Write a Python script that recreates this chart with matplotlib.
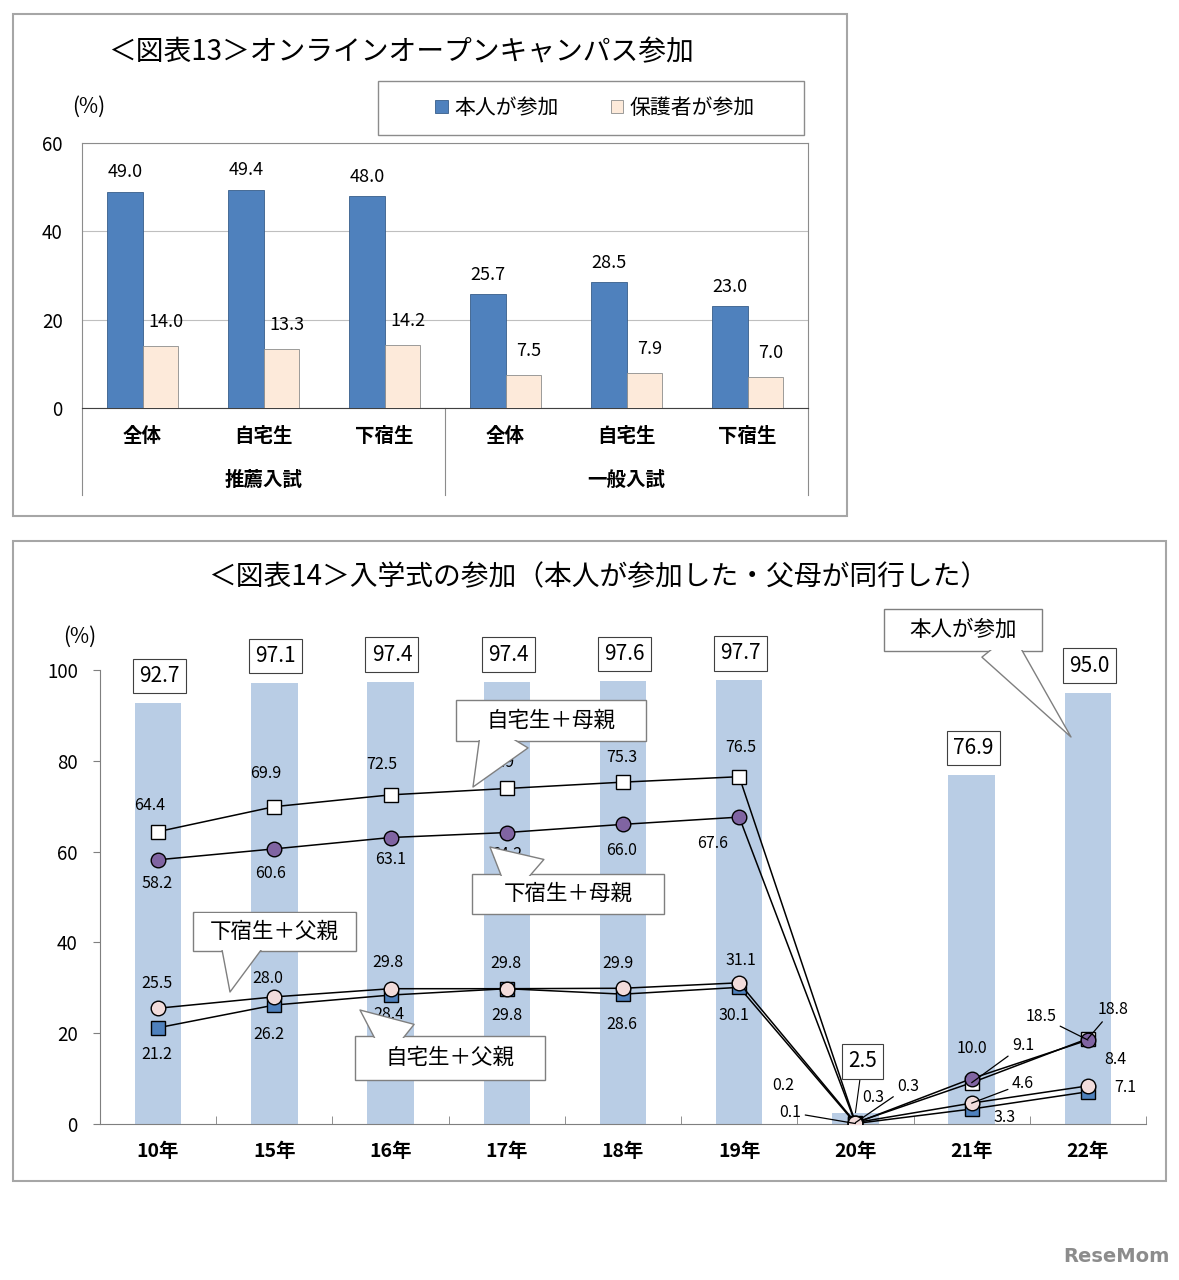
import matplotlib
matplotlib.use('Agg')
import matplotlib.pyplot as plt
from matplotlib.patches import Rectangle
import numpy as np

plt.rcParams['font.family'] = ['Noto Sans CJK JP', 'DejaVu Sans']

W, H = 1179, 1280

# 図表13 オンラインオープンキャンパス参加
kubun = ['全体', '自宅生', '下宿生', '全体', '自宅生', '下宿生']
nyushi = ['推薦入試', '一般入試']
honnin_oc = [49.0, 49.4, 48.0, 25.7, 28.5, 23.0]
hogosha_oc = [14.0, 13.3, 14.2, 7.5, 7.9, 7.0]

# 図表14 入学式の参加
nendo = ['10年', '15年', '16年', '17年', '18年', '19年', '20年', '21年', '22年']
honnin_shiki = [92.7, 97.1, 97.4, 97.4, 97.6, 97.7, 2.5, 76.9, 95.0]
jitaku_haha = [64.4, 69.9, 72.5, 73.9, 75.3, 76.5, 0.3, 9.1, 18.8]
geshuku_haha = [58.2, 60.6, 63.1, 64.2, 66.0, 67.6, 0.2, 10.0, 18.5]
jitaku_chichi = [21.2, 26.2, 28.4, 29.8, 28.6, 30.1, 0.1, 3.3, 7.1]
geshuku_chichi = [25.5, 28.0, 29.8, 29.8, 29.9, 31.1, 0.3, 4.6, 8.4]

# ラベルの位置 (offset points, 引き出し線あり/なし)
off_jh = [(-6, 19, 0), (-6, 24, 0), (-6, 22, 0), (-6, 19, 0), (-1, 18, 0), (1, 21, 0),
          (38, 26, 1), (37, 27, 1), (18, 21, 1)]
off_gh = [(-1, -17, 0), (-3, -18, 0), (0, -16, 0), (0, -16, 0), (-1, -19, 0), (-19, -19, 0),
          (-52, 27, 0), (0, 22, 0), (-34, 17, 1)]
off_jc = [(-1, -19, 0), (-4, -21, 0), (-1, -14, 0), (0, -19, 0), (-1, -22, 0), (-4, -20, 0),
          (-47, 8, 1), (24, -6, 0), (27, 3, 0)]
off_gc = [(-1, 18, 0), (-5, 13, 0), (-2, 19, 0), (-1, 18, 0), (-4, 18, 0), (1, 16, 0),
          (13, 18, 0), (37, 14, 1), (20, 19, 0)]


def fx(px):
    return px / W


def fy(py):
    return 1 - py / H


def frect(x0, y0, x1, y1, **kw):
    return Rectangle((fx(x0), fy(y1)), fx(x1) - fx(x0), fy(y0) - fy(y1),
                     transform=fig.transFigure, **kw)


fig = plt.figure(figsize=(W / 100, H / 100), dpi=100)

# 外枠
fig.patches.append(frect(13, 14, 847, 516, fill=False, ec='#A6A6A6', lw=1.5))
fig.patches.append(frect(13, 541, 1166, 1181, fill=False, ec='#A6A6A6', lw=1.5))

# ---------------- 図表13 ----------------
fig.text(fx(401), fy(52), '＜図表13＞オンラインオープンキャンパス参加',
         ha='center', va='center', fontsize=20)
fig.text(fx(89), fy(107), '(%)', ha='center', va='center', fontsize=15)

ax1 = fig.add_axes([fx(82), fy(408), fx(808) - fx(82), fy(143) - fy(408)])
x = np.arange(len(kubun))
bw = 0.29
b1 = ax1.bar(x - bw / 2, honnin_oc, bw, color='#4F81BD', ec='#385D8A', lw=0.6, zorder=3)
b2 = ax1.bar(x + bw / 2, hogosha_oc, bw, color='#FDEADA', ec='#8C8C8C', lw=0.6, zorder=3)
ax1.set_xlim(-0.5, 5.5)
ax1.set_ylim(0, 60)
ax1.set_yticks([0, 20, 40, 60])
ax1.set_xticks([])
ax1.tick_params(axis='y', length=0, pad=14, labelsize=13.5)
ax1.grid(axis='y', color='#BFBFBF', lw=0.8, zorder=0)
for s in ax1.spines.values():
    s.set_color('#8C8C8C')
    s.set_linewidth(0.8)
ax1.spines['bottom'].set_color('#404040')

for i, v in enumerate(honnin_oc):
    ax1.annotate(f'{v:.1f}', (x[i] - bw / 2, v), xytext=(0, 14), textcoords='offset points',
                 ha='center', va='center', fontsize=13)
for i, v in enumerate(hogosha_oc):
    ax1.annotate(f'{v:.1f}', (x[i] + bw / 2, v), xytext=(4, 17.5), textcoords='offset points',
                 ha='center', va='center', fontsize=13)

tr = ax1.get_xaxis_transform()
for i, c in enumerate(kubun):
    ax1.text(i, -0.106, c, transform=tr, ha='center', va='center', fontsize=14, fontweight='bold')
for j, g in enumerate(nyushi):
    ax1.text(1 + 3 * j, -0.272, g, transform=tr, ha='center', va='center', fontsize=14,
             fontweight='bold')
for xv in [-0.5, 2.5, 5.5]:
    ax1.plot([xv, xv], [0, -0.328], transform=tr, color='#8C8C8C', lw=0.8, clip_on=False)

# 凡例
fig.patches.append(frect(378, 81, 804, 135, fill=False, ec='#8C8C8C', lw=1.0))
fig.legend([b1, b2], ['本人が参加', '保護者が参加'], loc='center',
           bbox_to_anchor=(fx(595), fy(108)), ncol=2, frameon=False, fontsize=15,
           handlelength=0.6, handleheight=0.6, handletextpad=0.3, columnspacing=2.5)

# ---------------- 図表14 ----------------
fig.text(fx(598), fy(577), '＜図表14＞入学式の参加（本人が参加した・父母が同行した）',
         ha='center', va='center', fontsize=20)
fig.text(fx(80), fy(637), '(%)', ha='center', va='center', fontsize=15)

ax2 = fig.add_axes([fx(100), fy(1124), fx(1146) - fx(100), fy(670) - fy(1124)])
xs = np.arange(len(nendo))
ax2.bar(xs, honnin_shiki, 0.4, color='#B9CDE5', zorder=1)
ax2.set_xlim(-0.5, 8.5)
ax2.set_ylim(0, 100)
ax2.set_yticks([0, 20, 40, 60, 80, 100])
ax2.tick_params(axis='y', length=5, pad=11, labelsize=13.5, color='#7F7F7F')
ax2.set_xticks(xs)
ax2.set_xticklabels(nendo, fontsize=14, fontweight='bold')
ax2.set_xticks(np.arange(-0.5, 9, 1), minor=True)
ax2.tick_params(axis='x', which='major', length=0, pad=13)
ax2.tick_params(axis='x', which='minor', direction='in', length=6, color='#7F7F7F')
ax2.spines['top'].set_visible(False)
ax2.spines['right'].set_visible(False)
ax2.spines['left'].set_color('#7F7F7F')
ax2.spines['bottom'].set_color('#7F7F7F')

# 本人が参加の値(枠付き)
for i, v in enumerate(honnin_shiki):
    box = dict(boxstyle='square,pad=0.3', fc='white', ec='#404040', lw=0.8)
    if v < 10:
        ax2.annotate(f'{v:.1f}', (xs[i], v), xytext=(5, 37), textcoords='offset points',
                     ha='center', va='center', fontsize=15, bbox=box, zorder=6,
                     arrowprops=dict(arrowstyle='-', color='black', lw=0.8, shrinkA=0, shrinkB=0))
    else:
        ax2.annotate(f'{v:.1f}', (xs[i], v), xytext=(1, 19.5), textcoords='offset points',
                     ha='center', va='center', fontsize=15, bbox=box, zorder=6)

series = [
    (jitaku_haha, 's', 'white', off_jh),
    (geshuku_haha, 'o', '#8064A2', off_gh),
    (jitaku_chichi, 's', '#4F81BD', off_jc),
    (geshuku_chichi, 'o', '#F2DCDB', off_gc),
]
for k, (vals, m, c, offs) in enumerate(series):
    ax2.plot(xs, vals, color='black', lw=1.1, marker=m, ms=10 if m == 's' else 10.5,
             mfc=c, mec='black', mew=1.0, zorder=4 + k * 0.1)
    for i, v in enumerate(vals):
        dx, dy, lead = offs[i]
        ap = dict(arrowstyle='-', color='black', lw=0.9, shrinkA=1, shrinkB=0) if lead else None
        ax2.annotate(f'{v:.1f}', (xs[i], v), xytext=(dx, dy), textcoords='offset points',
                     ha='center', va='center', fontsize=11.5, zorder=5, arrowprops=ap)

# 吹き出し
callouts = [
    ('自宅生＋母親', (456, 700, 646, 741), (505, 734), (473, 787), 2.5),
    ('下宿生＋母親', (472, 874, 664, 914), (527, 879), (490, 847), 2.4),
    ('下宿生＋父親', (193, 912, 356, 951), (241, 944), (230, 992), 2.0),
    ('自宅生＋父親', (355, 1036, 545, 1080), (400, 1042), (360, 1010), 2.1),
    ('本人が参加', (884, 609, 1042, 651), (997, 645), (1071, 737), 1.8),
]
for text, (x0, y0, x1, y1), base, tip, tw in callouts:
    ax2.add_artist(frect(x0, y0, x1, y1, fc='white', ec='#7F7F7F', lw=1.0, zorder=8,
                         clip_on=False))
    ax2.annotate('', xy=(tip[0], H - tip[1]), xycoords='figure pixels',
                 xytext=(base[0], H - base[1]), textcoords='figure pixels',
                 annotation_clip=False, zorder=9,
                 arrowprops=dict(arrowstyle=f'wedge,tail_width={tw}', fc='white', ec='#7F7F7F',
                                 lw=1.0, shrinkA=0, shrinkB=0, mutation_scale=15.5))
    ax2.add_artist(frect(x0 + 1.5, y0 + 1.5, x1 - 1.5, y1 - 1.5, fc='white', ec='none',
                         zorder=9.5, clip_on=False))
    ax2.text(fx((x0 + x1) / 2), fy((y0 + y1) / 2), text, transform=fig.transFigure,
             ha='center', va='center', fontsize=15.5, zorder=10)

fig.text(fx(1116), fy(1257), 'ReseMom', ha='center', va='center', fontsize=14,
         fontweight='bold', color='#8C8C8C', family='DejaVu Sans')

fig.savefig('out.png', dpi=100)
